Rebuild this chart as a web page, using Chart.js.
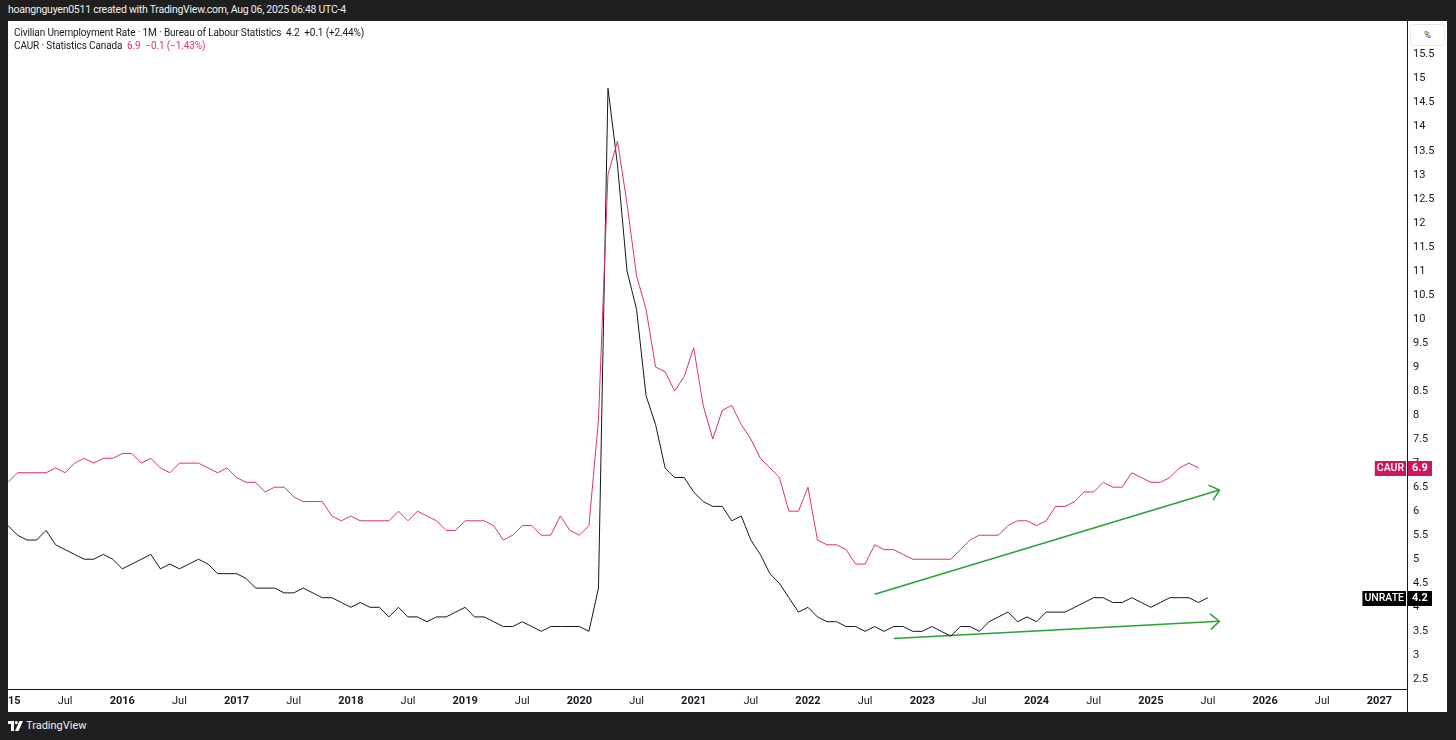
<!DOCTYPE html>
<html>
<head>
<meta charset="utf-8">
<script src="https://cdn.jsdelivr.net/npm/chart.js@4.4.1/dist/chart.umd.min.js"></script>
<style>
  html, body { margin: 0; padding: 0; width: 1456px; height: 740px; overflow: hidden; background: #1f1f1f; font-family: Roboto, "Noto Sans", sans-serif; }
  #top { position: absolute; left: 8px; top: 3px; color: #f0f0f0; font-size: 10.5px; letter-spacing: -0.25px; line-height: 14px; }
  #panel { position: absolute; left: 8px; top: 21px; width: 1439px; height: 691px; background: #fff; overflow: hidden; }
  #legend { position: absolute; left: 6px; top: 5px; font-size: 10px; letter-spacing: -0.12px; line-height: 13px; color: #131722; white-space: pre; }
  #legend .pink { color: #e0306f; }
  #pct { position: absolute; left: 1402px; top: 3px; width: 33px; height: 20px; background: #fff; border: 1px solid #e6e8ee; border-radius: 3px; font-size: 9px; line-height: 20px; text-align: center; color: #333; }
  #foot { position: absolute; left: 8px; top: 719px; color: #f0f0f0; font-size: 11px; line-height: 14px; display: flex; align-items: center; gap: 3px; }
</style>
</head>
<body>
<div id="top">hoangnguyen0511 created with TradingView.com, Aug 06, 2025 06:48 UTC-4</div>
<div id="panel">
  <canvas id="chart"></canvas>
  <div id="legend">Civilian Unemployment Rate · 1M · Bureau of Labour Statistics  4.2  +0.1 (+2.44%)
CAUR · Statistics Canada  <span class="pink">6.9  −0.1 (−1.43%)</span></div>
  <div id="pct">%</div>
</div>
<div id="foot">
  <svg width="15" height="10" viewBox="0 0 15 10"><path d="M0 0h6v10H3V3H0z" fill="#fff"/><circle cx="8.2" cy="1.6" r="1.6" fill="#fff"/><path d="M11.5 0h3.5l-4.5 10H7z" fill="#fff"/></svg>
  <span>TradingView</span>
</div>
<script>
// monthly values, Jan 2015 onwards
const unrate = [
  5.7, 5.5, 5.4, 5.4, 5.6, 5.3, 5.2, 5.1, 5.0, 5.0, 5.1, 5.0,
  4.8, 4.9, 5.0, 5.1, 4.8, 4.9, 4.8, 4.9, 5.0, 4.9, 4.7, 4.7,
  4.7, 4.6, 4.4, 4.4, 4.4, 4.3, 4.3, 4.4, 4.3, 4.2, 4.2, 4.1,
  4.0, 4.1, 4.0, 4.0, 3.8, 4.0, 3.8, 3.8, 3.7, 3.8, 3.8, 3.9,
  4.0, 3.8, 3.8, 3.7, 3.6, 3.6, 3.7, 3.6, 3.5, 3.6, 3.6, 3.6,
  3.6, 3.5, 4.4, 14.8, 13.2, 11.0, 10.2, 8.4, 7.8, 6.9, 6.7, 6.7,
  6.4, 6.2, 6.1, 6.1, 5.8, 5.9, 5.4, 5.1, 4.7, 4.5, 4.2, 3.9,
  4.0, 3.8, 3.7, 3.7, 3.6, 3.6, 3.5, 3.6, 3.5, 3.6, 3.6, 3.5,
  3.5, 3.6, 3.5, 3.4, 3.6, 3.6, 3.5, 3.7, 3.8, 3.9, 3.7, 3.8,
  3.7, 3.9, 3.9, 3.9, 4.0, 4.1, 4.2, 4.2, 4.1, 4.1, 4.2, 4.1,
  4.0, 4.1, 4.2, 4.2, 4.2, 4.1, 4.2
];
const caur = [
  6.6, 6.8, 6.8, 6.8, 6.8, 6.9, 6.8, 7.0, 7.1, 7.0, 7.1, 7.1,
  7.2, 7.2, 7.0, 7.1, 6.9, 6.8, 7.0, 7.0, 7.0, 6.9, 6.8, 6.9,
  6.7, 6.6, 6.6, 6.4, 6.5, 6.5, 6.3, 6.2, 6.2, 6.2, 5.9, 5.8,
  5.9, 5.8, 5.8, 5.8, 5.8, 6.0, 5.8, 6.0, 5.9, 5.8, 5.6, 5.6,
  5.8, 5.8, 5.8, 5.7, 5.4, 5.5, 5.7, 5.7, 5.5, 5.5, 5.9, 5.6,
  5.5, 5.7, 7.9, 13.0, 13.7, 12.4, 10.9, 10.2, 9.0, 8.9, 8.5, 8.8,
  9.4, 8.2, 7.5, 8.1, 8.2, 7.8, 7.5, 7.1, 6.9, 6.7, 6.0, 6.0,
  6.5, 5.4, 5.3, 5.3, 5.2, 4.9, 4.9, 5.3, 5.2, 5.2, 5.1, 5.0,
  5.0, 5.0, 5.0, 5.0, 5.2, 5.4, 5.5, 5.5, 5.5, 5.7, 5.8, 5.8,
  5.7, 5.8, 6.1, 6.1, 6.2, 6.4, 6.4, 6.6, 6.5, 6.5, 6.8, 6.7,
  6.6, 6.6, 6.7, 6.9, 7.0, 6.9
];
const startYear = 2015;
const topLabel = 15.5;

// hand-drawn trend arrows (month index, %)
const caurTrendX = [91.0, 127.2];
const caurTrendY = [4.27, 6.44];
const unrateTrendX = [93.0, 127.2];
const unrateTrendY = [3.35, 3.71];

const black = '#131722';
const pink = '#e0306f';
const pinkTag = '#cc1760';
const green = '#27a334';

const toPoints = arr => arr.map((v, i) => ({ x: i, y: v }));
const pair = (xs, ys) => xs.map((x, i) => ({ x: x, y: ys[i] }));

const tagsPlugin = {
  id: 'tags',
  afterDatasetsDraw(chart) {
    const { ctx, chartArea, scales: { x, y } } = chart;
    const ax = chartArea.right;
    ctx.save();
    // axis line continues through the time scale
    ctx.strokeStyle = black;
    ctx.lineWidth = 1;
    ctx.beginPath();
    ctx.moveTo(Math.round(ax) + 0.5, chartArea.top);
    ctx.lineTo(Math.round(ax) + 0.5, chart.height);
    ctx.stroke();

    // arrowheads at the end of the trend lines
    [[caurTrendX, caurTrendY], [unrateTrendX, unrateTrendY]].forEach(([xs, ys]) => {
      const x0 = x.getPixelForValue(xs[0]), y0 = y.getPixelForValue(ys[0]);
      const x1 = x.getPixelForValue(xs[1]), y1 = y.getPixelForValue(ys[1]);
      const a = Math.atan2(y1 - y0, x1 - x0);
      ctx.strokeStyle = green;
      ctx.lineWidth = 1.5;
      ctx.beginPath();
      ctx.moveTo(x1 - 12 * Math.cos(a - 0.72), y1 - 12 * Math.sin(a - 0.72));
      ctx.lineTo(x1, y1);
      ctx.lineTo(x1 - 12 * Math.cos(a + 0.72), y1 - 12 * Math.sin(a + 0.72));
      ctx.stroke();
    });

    // last value tags on the price scale
    const tags = [
      { name: 'CAUR', value: caur[caur.length - 1], bg: pinkTag },
      { name: 'UNRATE', value: unrate[unrate.length - 1], bg: '#000000' }
    ];
    ctx.textBaseline = 'middle';
    ctx.textAlign = 'left';
    tags.forEach(t => {
      const py = Math.round(y.getPixelForValue(t.value));
      ctx.font = '500 10.5px Roboto, "Noto Sans", sans-serif';
      const nw = ctx.measureText(t.name).width + 4;
      ctx.fillStyle = t.bg;
      ctx.fillRect(ax - 1 - nw, py - 7, nw, 15);
      ctx.fillRect(ax + 1, py - 7, 24, 15);
      ctx.fillStyle = '#ffffff';
      ctx.fillText(t.name, ax - 1 - nw + 2, py + 0.5);
      ctx.font = 'bold 11px Roboto, "Noto Sans", sans-serif';
      ctx.fillText(t.value.toFixed(1), ax + 5, py + 0.5);
    });
    ctx.restore();
  }
};

new Chart(document.getElementById('chart'), {
  type: 'line',
  data: {
    datasets: [
      { data: toPoints(caur), borderColor: pink, borderWidth: 1, pointRadius: 0, tension: 0 },
      { data: toPoints(unrate), borderColor: black, borderWidth: 1, pointRadius: 0, tension: 0 },
      { data: pair(caurTrendX, caurTrendY), borderColor: green, borderWidth: 1.5, pointRadius: 0 },
      { data: pair(unrateTrendX, unrateTrendY), borderColor: green, borderWidth: 1.5, pointRadius: 0 }
    ]
  },
  options: {
    responsive: true,
    maintainAspectRatio: false,
    animation: false,
    events: [],
    layout: { padding: 0 },
    plugins: { legend: { display: false }, tooltip: { enabled: false } },
    scales: {
      x: {
        type: 'linear',
        min: 0,
        max: 146.9,
        grid: { display: false, drawTicks: false },
        border: { display: true, color: black, width: 1 },
        ticks: {
          stepSize: 6,
          includeBounds: false,
          autoSkip: false,
          maxRotation: 0,
          padding: 6,
          color: '#131722',
          font: c => ({ family: 'Roboto, "Noto Sans", sans-serif', size: 11, weight: (c.tick && c.tick.value % 12 === 0) ? 'bold' : 'normal' }),
          callback: v => (v % 6 !== 0 ? '' : (v % 12 === 0 ? String(startYear + v / 12) : 'Jul'))
        },
        afterFit: s => { s.height = 23; s.paddingLeft = 0; s.paddingRight = 0; }
      },
      y: {
        position: 'right',
        min: 2.3,
        max: 16.2,
        grid: { display: false, drawTicks: false },
        border: { display: true, color: black, width: 1 },
        ticks: {
          stepSize: 0.5,
          includeBounds: false,
          autoSkip: false,
          padding: 6,
          color: '#131722',
          font: { family: 'Roboto, "Noto Sans", sans-serif', size: 11 },
          callback: v => (v > topLabel || Math.abs(v * 2 - Math.round(v * 2)) > 1e-6 ? '' : String(Math.round(v * 2) / 2))
        },
        afterFit: s => { s.width = 40; s.paddingTop = 0; s.paddingBottom = 0; }
      }
    }
  },
  plugins: [tagsPlugin]
});
</script>
</body>
</html>
